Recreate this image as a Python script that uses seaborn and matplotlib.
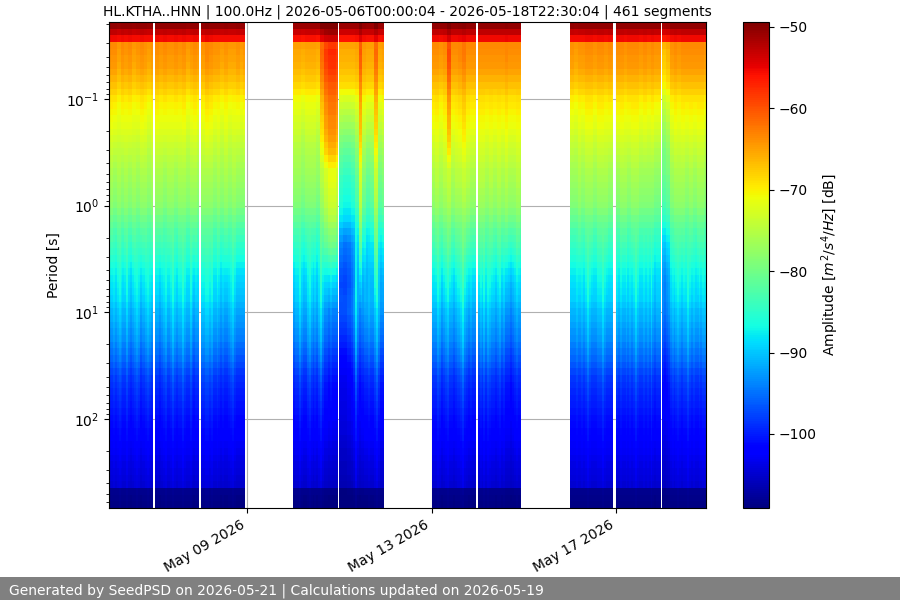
import datetime as dt
import math

import matplotlib
matplotlib.use("Agg")
import matplotlib.dates as mdates
import matplotlib.pyplot as plt
from matplotlib.patches import Rectangle
import numpy as np
import seaborn as sns

TITLE = "HL.KTHA..HNN | 100.0Hz | 2026-05-06T00:00:04 - 2026-05-18T22:30:04 | 461 segments"
FOOTER = "Generated by SeedPSD on 2026-05-21 | Calculations updated on 2026-05-19"

# Median noise level per period bin, shortest period first [dB]
base_level = [
    -50.5, -53.0, -55.5, -64.0, -64.3, -64.6, -65.0, -65.7, -66.5, -67.4,
    -68.5, -69.7, -70.4, -71.0, -71.6, -72.2, -72.8, -73.5, -74.2, -74.8,
    -75.4, -76.0, -76.6, -77.0, -77.5, -78.0, -78.5, -79.0, -80.0, -81.0,
    -82.0, -83.0, -83.7, -84.5, -85.2, -86.0, -86.8, -87.6, -88.2, -88.7,
    -89.1, -89.5, -90.3, -91.0, -91.6, -92.2, -92.8, -93.4, -94.2, -95.0,
    -95.8, -96.7, -97.6, -98.4, -99.0, -99.4, -99.8, -100.2, -100.6, -101.0,
    -101.4, -101.7, -102.0, -102.6, -103.0, -103.4, -103.8, -104.1, -104.4, -104.7,
    -108.3, -108.6, -108.8,
]

# How strongly each period bin follows the three activity bands
short_weight = [
    0.3, 0.3, 0.3, 0.8, 1.0, 1.0, 1.0, 1.0, 1.0, 1.0,
    1.0, 1.0, 0.95, 0.95, 0.9, 0.9, 0.85, 0.8, 0.7, 0.6,
    0.4, 0.2, 0.0, 0.0, 0.0, 0.0, 0.0, 0.0, 0.0, 0.0,
    0.0, 0.0, 0.0, 0.0, 0.0, 0.0, 0.0, 0.0, 0.0, 0.0,
    0.0, 0.0, 0.0, 0.0, 0.0, 0.0, 0.0, 0.0, 0.0, 0.0,
    0.0, 0.0, 0.0, 0.0, 0.0, 0.0, 0.0, 0.0, 0.0, 0.0,
    0.0, 0.0, 0.0, 0.0, 0.0, 0.0, 0.0, 0.0, 0.0, 0.0,
    0.0, 0.0, 0.0,
]
mid_weight = [
    0.0, 0.0, 0.0, 0.0, 0.0, 0.0, 0.0, 0.0, 0.0, 0.0,
    0.1, 0.17, 0.24, 0.31, 0.38, 0.45, 0.52, 0.59, 0.66, 0.73,
    0.8, 0.87, 0.94, 1.0, 1.0, 1.0, 1.0, 1.0, 1.0, 1.0,
    1.0, 1.0, 1.0, 1.0, 0.9, 0.8, 0.7, 0.6, 0.5, 0.4,
    0.3, 0.2, 0.1, 0.0, 0.0, 0.0, 0.0, 0.0, 0.0, 0.0,
    0.0, 0.0, 0.0, 0.0, 0.0, 0.0, 0.0, 0.0, 0.0, 0.0,
    0.0, 0.0, 0.0, 0.0, 0.0, 0.0, 0.0, 0.0, 0.0, 0.0,
    0.0, 0.0, 0.0,
]
long_weight = [
    0.0, 0.0, 0.0, 0.0, 0.0, 0.0, 0.0, 0.0, 0.0, 0.0,
    0.0, 0.0, 0.0, 0.0, 0.0, 0.0, 0.0, 0.0, 0.0, 0.0,
    0.0, 0.0, 0.0, 0.0, 0.0, 0.0, 0.0, 0.0, 0.0, 0.0,
    0.1, 0.2, 0.3, 0.4, 0.5, 0.6, 0.7, 0.8, 0.9, 1.0,
    1.0, 1.0, 1.0, 1.0, 1.0, 1.0, 1.0, 1.0, 1.0, 1.0,
    0.95, 0.9, 0.85, 0.8, 0.75, 0.7, 0.65, 0.6, 0.55, 0.5,
    0.5, 0.45, 0.45, 0.4, 0.4, 0.35, 0.35, 0.3, 0.3, 0.3,
    0.1, 0.1, 0.1,
]

# Recording days: first hour after the start of May 6, and hours of data that day
day_start = [0, 24, 48, 96, 120, 168, 192, 240, 264, 288]
day_length = [22.7, 22.9, 23.0, 23.0, 23.2, 23.0, 22.5, 22.7, 23.3, 23.0]

# Two-hourly anomalies per recording day [dB]
short_band = [
    [0.5, 0.5, -0.5, 0.5, 0, 0.5, -0.5, 0, 0.5, 0, -0.5, 0],
    [0.5, 0, 0.5, 0, 0, 0.5, 0, 0.5, -0.5, 0, 0.5, 0],
    [0, 1, 0.5, 0, 0, -0.5, 0, -0.5, -0.5, 0, -0.5, 0],
    [-1, -1, -1.5, -1, -1, -1, -1.5, 3, 6, 7, 7, 6],
    [-1.5, -1.5, -1.5, -1.5, -1, 4, -0.5, -1, -1, 3, -1, -0.5],
    [0.5, 0.5, 0, 0.5, 5, 0.5, 0.5, 1, 2, 0.5, 0.5, 0.5],
    [0.5, 0.5, 0.5, 0.5, 0.5, 0.5, 0.5, 1, 0.5, 0.5, 0.5, 0.5],
    [0, -0.5, 0, 0, 0.5, 0.5, 0, 0.5, 0.5, 0, 0.5, 0],
    [0.5, 0.5, 0, 0.5, 0.5, 0.5, 0, 0.5, 0, 0.5, 0, 0],
    [-3, -2, 0, 0.5, 0, 0.5, 0.5, 0.5, 0.5, 0.5, 0.5, 0],
]
mid_band = [
    [1, 0, 1, 0, 1, 0, 1, 0, 1, 1, 0, 1],
    [1, 1, 0, 1, 1, 0, 1, 1, 0, 1, 1, 0],
    [1, 1, 1, 0, 1, 0, 1, 0, 1, 0, 0, 0],
    [0, 0, -1, 0, 0, 0, -1, 2, 4, 5.5, 5.5, 4],
    [-7, -8, -8, -7, -4, 4, -2, -4, -3, 3, -3, -2],
    [1, 2, 1, 2, 3, 1, 2, 2, 3, 2, 1, 1],
    [2, 2, 1, 2, 1, 2, 1, 2, 1, 1, 2, 1],
    [0, 0, 1, 0, 1, 1, 0, 1, 1, 1, 0, 0],
    [0, 1, 1, 0, 1, 1, 0, 0, 0, 0, -1, -1],
    [-4, -3, 0, 1, 1, 1, 0, 1, 0, 1, 1, 0],
]

# Hourly anomalies at long periods [dB]
long_band = [
    [0, 0, 1, 0, 1, 2, 1, 0, 0, 2, 0, -1, 0, 1, 2, 1, -1, 0, 0, 1, 2, 1, 0, 0],
    [0, 0, -1, 0, 1, 2, 0, 0, 1, 3, 1, 0, 1, 1, 3, 1, 0, 0, 2, 0, -1, 0, 0, 0],
    [1, 1, 2, 2, 1, 2, 0, 0, 1, 0, -1, 0, -1, -1, 0, 1, 2, 0, -1, -1, -1, -1, -1, 0],
    [-1, 0, 0, 2, 0, -1, -1, 1, 2, 0, -1, 0, -1, 1, 3, 0, -2, -2, -3, -2, -3, -3, -3, -3],
    [-6, -6, -6, -6, -5, -5, -4, -2, 3, -1, -3, -2, -2, -1, -1, 0, -1, -1, 1, 3, 0, -2, -2, -2],
    [0, 0, 0, 2, 1, -1, 0, 1, 2, 0, 0, -1, 0, 1, 1, 2, 4, 1, 0, -1, 0, -1, -1, 0],
    [0, 1, 0, 2, 0, 2, 1, 0, 0, -1, 0, 1, -1, 0, -2, -2, -2, -3, -2, -1, 0, -1, -1, 0],
    [0, 0, 0, 1, 0, 0, 1, 0, 1, 3, 1, 0, 0, 0, 1, 1, 1, 3, 1, 0, 0, 0, 0, 0],
    [1, 0, 1, 0, 0, 1, 0, 1, 0, 1, 3, 1, 0, 0, 1, 0, 1, 0, 2, 0, -1, 0, 0, 0],
    [-3, -4, -3, -2, 0, 1, 0, 1, 2, 1, 0, 1, 1, 3, 1, 0, 1, 0, 0, 1, 0, 1, 1, 0],
]

START = dt.datetime(2026, 5, 6, 0, 0, 4)
END_HOUR = 310.9
LOG_PERIOD_RANGE = (-1.722, 2.834)
VMIN, VMAX = -109.1, -49.4

sns.set_style("ticks", {
    "axes.edgecolor": "black", "text.color": "black", "axes.labelcolor": "black",
    "xtick.color": "black", "ytick.color": "black",
    "grid.color": "#b0b0b0", "font.family": ["DejaVu Sans"],
})

# Assemble the time/period matrix, with an empty column over each data gap
base = np.array(base_level)
weights = np.array([short_weight, mid_weight, long_weight])
time_edges = [0.0]
columns = []
for i, (begin, length) in enumerate(zip(day_start, day_length)):
    if begin > time_edges[-1]:
        time_edges.append(float(begin))
        columns.append(np.full(base.size, np.nan))
    for hour in range(math.ceil(length)):
        anomalies = np.array([short_band[i][hour // 2], mid_band[i][hour // 2], long_band[i][hour]])
        columns.append(base + anomalies @ weights)
        time_edges.append(begin + min(hour + 1, length))
matrix = np.ma.masked_invalid(np.array(columns).T)

x_edges = mdates.date2num([START + dt.timedelta(hours=h) for h in time_edges])
y_edges = np.logspace(*LOG_PERIOD_RANGE, base.size + 1)

fig = plt.figure(figsize=(9, 6), dpi=100)
ax = fig.add_axes([109 / 900, 1 - 508 / 600, 597 / 900, 486 / 600])
cax = fig.add_axes([743 / 900, 1 - 508 / 600, 26 / 900, 486 / 600])

mesh = ax.pcolormesh(x_edges, y_edges, matrix, shading="flat",
                     cmap="jet", vmin=VMIN, vmax=VMAX)
ax.set_yscale("log")
ax.set_ylim(y_edges[-1], y_edges[0])
ax.set_xlim(x_edges[0], mdates.date2num(START + dt.timedelta(hours=END_HOUR)))
ax.xaxis_date()
ax.xaxis.set_major_locator(mdates.DayLocator(bymonthday=[9, 13, 17]))
ax.xaxis.set_major_formatter(mdates.DateFormatter("%b %d %Y"))
ax.grid(True, which="major", axis="both", color="#b0b0b0")
plt.setp(ax.get_xticklabels(), rotation=30, ha="right")
ax.set_ylabel("Period [s]")
ax.set_title(TITLE, fontsize=10, pad=5)

colorbar = fig.colorbar(mesh, cax=cax)
colorbar.set_ticks(np.arange(-100, -40, 10))
colorbar.set_label("Amplitude [$m^2/s^4/Hz$] [dB]", labelpad=2)

# Footer banner along the bottom edge of the figure
fig.add_artist(Rectangle((0, 0), 1, 23 / 600, transform=fig.transFigure,
                         facecolor="#808080", edgecolor="none"))
fig.text(9 / 900, 9.5 / 600, FOOTER, color="white", fontsize=10, va="center", ha="left")

fig.savefig("out.png", dpi=100)
